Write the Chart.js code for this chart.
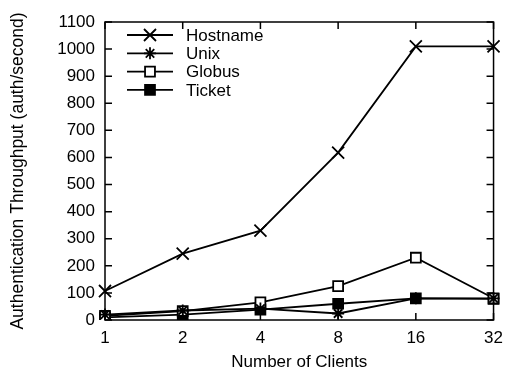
<!DOCTYPE html>
<html><head><meta charset="utf-8">
<script src="https://cdn.jsdelivr.net/npm/chart.js@4/dist/chart.umd.min.js"></script>
<style>html,body{margin:0;padding:0;background:#fff}#w{width:511px;height:373px}</style>
</head><body><div id="w"><canvas id="c" width="511" height="373"></canvas></div>
<script>
const categories = ['1','2','4','8','16','32'];
const hostname = [107, 245, 330, 618, 1010, 1010];
const unix = [20, 35, 42, 24, 80, 80];
const globus = [15, 33, 65, 125, 230, 80];
const ticket = [10, 20, 38, 60, 80, 78];
const yTicks = [0,100,200,300,400,500,600,700,800,900,1000,1100];
const seriesNames = ['Hostname','Unix','Globus','Ticket'];

const FONT = {family: '"Liberation Sans", Arial, Helvetica, sans-serif', size: 17};
const styles = [
  {pointStyle:'crossRot', pointRadius:8.5, pointBackgroundColor:'#000'},
  {pointStyle:'star', pointRadius:6, pointBackgroundColor:'#000'},
  {pointStyle:'rect', pointRadius:7, pointBackgroundColor:'#fff'},
  {pointStyle:'rect', pointRadius:7, pointBackgroundColor:'#000'}
];
const dataArr = [hostname, unix, globus, ticket];

const frame = {
  id:'frame',
  afterDraw(chart){
    const {ctx, chartArea:a, scales:{x,y}} = chart;
    ctx.save();
    ctx.strokeStyle='#000'; ctx.lineWidth=1.5;
    ctx.strokeRect(a.left, a.top, a.right-a.left, a.bottom-a.top);
    const L=7;
    ctx.beginPath();
    x.ticks.forEach((t,i)=>{const px=x.getPixelForTick(i);
      ctx.moveTo(px,a.bottom); ctx.lineTo(px,a.bottom-L);
      ctx.moveTo(px,a.top); ctx.lineTo(px,a.top+L);});
    y.ticks.forEach((t,i)=>{const py=y.getPixelForTick(i);
      ctx.moveTo(a.left,py); ctx.lineTo(a.left+L,py);
      ctx.moveTo(a.right,py); ctx.lineTo(a.right-L,py);});
    ctx.stroke();
    // legend
    ctx.font = FONT.size+'px '+FONT.family;
    ctx.textBaseline='middle'; ctx.fillStyle='#000';
    seriesNames.forEach((n,i)=>{
      const yy = a.top + 13 + i*18.3;
      ctx.beginPath(); ctx.lineWidth=1.8;
      ctx.moveTo(a.left+22, yy); ctx.lineTo(a.left+68, yy); ctx.stroke();
      const s = styles[i];
      ctx.fillStyle = s.pointBackgroundColor;
      Chart.helpers.drawPoint(ctx, {pointStyle:s.pointStyle, radius:s.pointRadius, borderWidth:1.8}, a.left+45, yy);
      ctx.fillStyle='#000';
      ctx.fillText(n, a.left+81, yy+1);
    });
    ctx.restore();
  }
};

new Chart(document.getElementById('c'), {
  type:'line',
  data:{labels:categories, datasets: dataArr.map((d,i)=>Object.assign({
    label: seriesNames[i], data:d, borderColor:'#000', borderWidth:1.8,
    pointBorderColor:'#000', pointBorderWidth:1.8, tension:0, fill:false
  }, styles[i]))},
  options:{
    responsive:false, animation:false, devicePixelRatio:1,
    layout:{padding:{left:0,right:15,top:22,bottom:0}},
    plugins:{legend:{display:false}, tooltip:{enabled:false}},
    scales:{
      x:{type:'category', offset:false,
        grid:{display:false, drawTicks:false},
        border:{display:false},
        ticks:{color:'#000', font:FONT, padding:8, maxRotation:0, autoSkip:false},
        title:{display:true, text:'Number of Clients', color:'#000', font:FONT, padding:{top:3,bottom:0}},
        afterFit(s){ s.height = 53; }
      },
      y:{type:'linear', min:0, max:1100,
        afterBuildTicks(s){ s.ticks = yTicks.map(v=>({value:v})); },
        grid:{display:false, drawTicks:false},
        border:{display:false},
        ticks:{color:'#000', font:FONT, padding:10, callback:v=>String(v)},
        title:{display:true, text:'Authentication Throughput (auth/second)', color:'#000', font:{family:FONT.family, size:17.5}, padding:{top:8,bottom:0}},
        afterFit(s){ s.width = 105; }
      }
    }
  },
  plugins:[frame]
});
</script></body></html>
